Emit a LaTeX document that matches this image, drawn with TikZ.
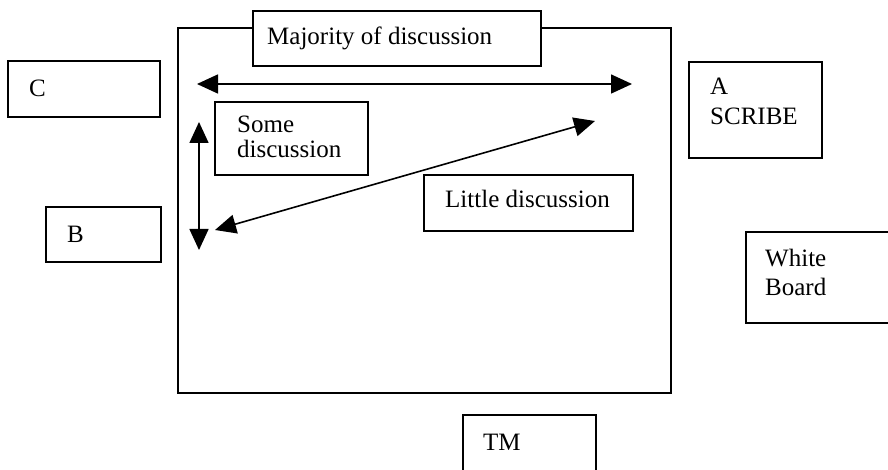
\documentclass[tikz,border=0pt]{standalone}
\usepackage{fontspec}
\setmainfont{Liberation Serif}
\usetikzlibrary{arrows.meta}

\begin{document}
\begin{tikzpicture}[x=1pt, y=-1pt,
  box/.style={draw=black, line width=1.4pt, fill=white, inner sep=0pt, outer sep=0pt, anchor=north west},
  lbl/.style={inner sep=0pt, anchor=base west, align=left,
              font=\fontsize{25}{29}\selectfont},
  link/.style={line width=1.6pt, {Triangle[length=21pt, width=19pt]}-{Triangle[length=21pt, width=19pt]}}]
  \useasboundingbox (0,0) rectangle (888,470);
  \clip (0,0) rectangle (888,470);

  % the table
  \node[box, fill=none, minimum width=493pt, minimum height=365pt] (table) at (178,28) {};
  \node[box, minimum width=288pt, minimum height=55pt] (major) at (253,11) {};
  \node[lbl] (tmajor) at (267,45) {Majority of discussion};

  % seats around the table
  \node[box, minimum width=152pt, minimum height=56pt] (C) at (8,61) {};
  \node[lbl] (tC) at (29,97) {C};
  \node[box, minimum width=115pt, minimum height=55pt] (B) at (46,207) {};
  \node[lbl] (tB) at (67,243) {B};
  \node[box, minimum width=133pt, minimum height=96pt] (A) at (689,62) {};
  \node[lbl, font=\fontsize{25}{30}\selectfont] (tA) at (710,125) {A\\SCRIBE};
  \node[box, minimum width=160pt, minimum height=91pt] (WB) at (746,232) {};
  \node[lbl] (tWB) at (765,295) {White\\Board};
  \node[box, minimum width=133pt, minimum height=70pt] (TM) at (463,415) {};
  \node[lbl] (tTM) at (483,450) {TM};

  % discussion labels
  \node[box, minimum width=153pt, minimum height=73pt] (some) at (215,102) {};
  \node[lbl, font=\fontsize{25}{25}\selectfont] (tsome) at (237,158) {Some\\discussion};
  \node[box, minimum width=209pt, minimum height=56pt] (little) at (424,175) {};
  \node[lbl] (tlittle) at (445,208) {Little discussion};

  % arrow ends
  \coordinate (hL) at (197,84);
  \coordinate (hR) at (632,84);
  \coordinate (vT) at (199,122);
  \coordinate (vB) at (199,250);
  \coordinate (dL) at (215,230);
  \coordinate (dR) at (595,121);

  \draw[link] (hL) -- (hR);
  \draw[link] (vT) -- (vB);
  \draw[link] (dL) -- (dR);
\end{tikzpicture}
\end{document}
